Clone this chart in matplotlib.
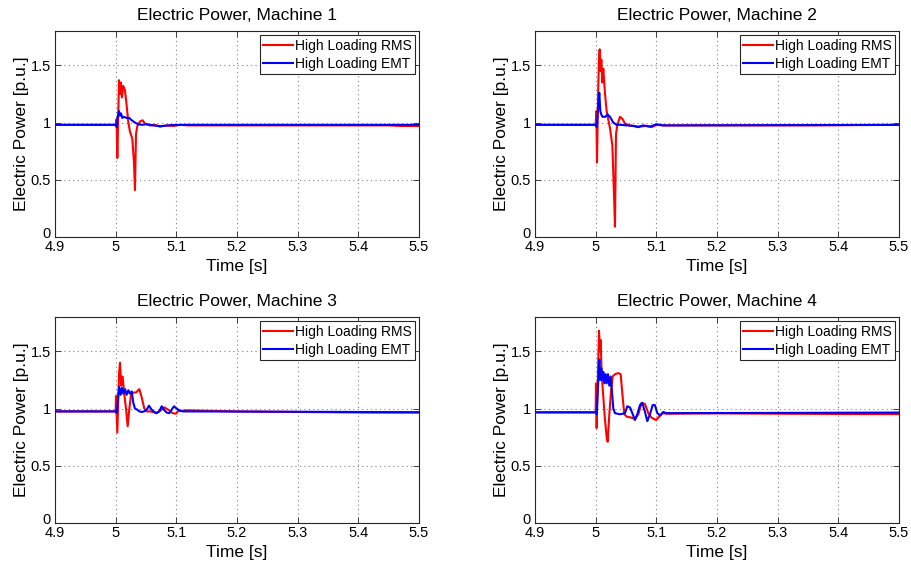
import matplotlib
matplotlib.use("Agg")
import matplotlib.pyplot as plt
from matplotlib.transforms import ScaledTranslation

plt.rcParams['font.family'] = ['Liberation Sans', 'DejaVu Sans']

# ---- data: electric power [p.u.] vs time [s] ----
m1_rms_t = [4.9, 5.0, 5.0016, 5.0027, 5.0044, 5.0055, 5.0071, 5.0088, 5.0104, 5.0126, 5.0154,
            5.0181, 5.0209, 5.0236, 5.0274, 5.0302, 5.0318, 5.0335, 5.0357, 5.0401, 5.0445,
            5.0483, 5.0566, 5.0648, 5.073, 5.084, 5.095, 5.106, 5.12, 5.2, 5.3, 5.45, 5.47, 5.5]
m1_rms_p = [0.98, 0.98, 1.03, 0.69, 1.10, 1.37, 1.25, 1.35, 1.22, 1.32, 1.28,
            1.15, 1.00, 0.92, 0.86, 0.65, 0.41, 0.90, 0.97, 1.01, 1.02,
            0.99, 0.975, 0.98, 0.965, 0.975, 0.97, 0.98, 0.975, 0.975, 0.975, 0.975, 0.97, 0.97]
m1_emt_t = [4.9, 5.0, 5.0016, 5.0033, 5.0055, 5.0071, 5.0088, 5.011, 5.0137, 5.0181, 5.0225,
            5.0264, 5.0318, 5.0373, 5.0428, 5.0511, 5.062, 5.073, 5.0813, 5.0922, 5.11, 5.5]
m1_emt_p = [0.98, 0.98, 0.96, 1.05, 1.10, 1.06, 1.08, 1.04, 1.05, 1.04, 1.04,
            1.02, 1.00, 0.985, 0.98, 0.985, 0.975, 0.968, 0.972, 0.978, 0.98, 0.98]

m2_rms_t = [4.9, 5.0, 5.0011, 5.0022, 5.0038, 5.0055, 5.0066, 5.0082, 5.0093, 5.011, 5.0126,
            5.0154, 5.0181, 5.0236, 5.0275, 5.0291, 5.0307, 5.0318, 5.0335, 5.0357, 5.0401,
            5.0445, 5.0483, 5.0566, 5.0703, 5.084, 5.0922, 5.1005, 5.1114, 5.2, 5.36, 5.5]
m2_rms_p = [0.98, 0.98, 1.10, 0.65, 1.20, 1.57, 1.64, 1.45, 1.55, 1.35, 1.47,
            1.25, 1.10, 0.95, 0.80, 0.55, 0.30, 0.09, 0.90, 0.98, 1.05,
            1.03, 0.99, 0.975, 0.965, 0.97, 0.96, 0.98, 0.975, 0.975, 0.975, 0.98]
m2_emt_t = [4.9, 5.0, 5.0016, 5.0044, 5.006, 5.0077, 5.0093, 5.0115, 5.0154, 5.0198, 5.0236,
            5.0291, 5.0346, 5.0428, 5.0511, 5.062, 5.0703, 5.0785, 5.0895, 5.1005, 5.1114, 5.5]
m2_emt_p = [0.98, 0.98, 0.96, 1.15, 1.26, 1.10, 1.07, 1.05, 1.05, 1.07, 1.05,
            1.00, 0.98, 0.98, 0.975, 0.97, 0.96, 0.975, 0.965, 0.985, 0.975, 0.98]

m3_rms_t = [4.9, 5.0, 5.0005, 5.0027, 5.0055, 5.0071, 5.0093, 5.0115, 5.0137, 5.017, 5.0198,
            5.0225, 5.0253, 5.0291, 5.0335, 5.039, 5.0428, 5.0472, 5.0511, 5.0566, 5.062,
            5.0664, 5.073, 5.0802, 5.0867, 5.0939, 5.0994, 5.1032, 5.1087, 5.1169, 5.2, 5.3,
            5.42, 5.5]
m3_rms_p = [0.975, 0.975, 1.11, 0.79, 1.30, 1.40, 1.20, 1.28, 1.15, 1.00, 0.845,
            1.00, 1.12, 1.14, 1.14, 1.17, 1.10, 1.00, 0.975, 0.975, 0.97,
            0.96, 0.98, 1.01, 0.99, 0.96, 0.955, 0.98, 0.98, 0.985, 0.975, 0.97,
            0.965, 0.965]
m3_emt_t = [4.9, 5.0, 5.0016, 5.0044, 5.006, 5.0082, 5.0104, 5.0126, 5.0154, 5.0181, 5.0209,
            5.0236, 5.0264, 5.0291, 5.0318, 5.0357, 5.039, 5.0428, 5.0467, 5.0511, 5.0549,
            5.0593, 5.0637, 5.0675, 5.0719, 5.0758, 5.0796, 5.084, 5.0884, 5.0922, 5.0961,
            5.1005, 5.106, 5.1114, 5.3, 5.5]
m3_emt_p = [0.975, 0.975, 0.96, 1.12, 1.19, 1.12, 1.18, 1.13, 1.17, 1.12, 1.16,
            1.13, 1.15, 1.05, 1.00, 0.99, 0.975, 0.97, 0.975, 0.99, 1.025,
            0.99, 0.97, 0.96, 0.975, 1.02, 0.99, 0.965, 0.96, 0.99, 1.02,
            1.00, 0.98, 0.975, 0.972, 0.968]

m4_rms_t = [4.9, 5.0, 5.0005, 5.0016, 5.0033, 5.0055, 5.0071, 5.0082, 5.0099, 5.0126, 5.0154,
            5.0181, 5.0198, 5.0225, 5.0253, 5.028, 5.0318, 5.0373, 5.0412, 5.0445, 5.0472,
            5.0511, 5.0593, 5.0648, 5.0703, 5.0758, 5.0813, 5.0867, 5.0922, 5.0994, 5.1049,
            5.1104, 5.1169, 5.2, 5.3, 5.44, 5.5]
m4_rms_p = [0.967, 0.967, 1.22, 0.83, 1.20, 1.68, 1.50, 1.60, 1.30, 1.10, 0.90,
            0.75, 0.71, 0.95, 1.15, 1.28, 1.30, 1.31, 1.30, 1.10, 0.95,
            0.93, 0.92, 0.91, 0.95, 1.05, 1.04, 0.96, 0.92, 0.90, 0.93,
            0.96, 0.955, 0.958, 0.955, 0.952, 0.952]
m4_emt_t = [4.9, 5.0, 5.0016, 5.0044, 5.006, 5.0077, 5.0093, 5.011, 5.0126, 5.0143, 5.0165,
            5.0181, 5.0203, 5.0225, 5.0247, 5.0269, 5.0291, 5.0318, 5.0357, 5.0401, 5.0445,
            5.0483, 5.0522, 5.0566, 5.0604, 5.0648, 5.0686, 5.073, 5.0769, 5.0813, 5.0851,
            5.0895, 5.0939, 5.0977, 5.1016, 5.106, 5.1114, 5.1169, 5.3, 5.5]
m4_emt_p = [0.967, 0.967, 0.95, 1.25, 1.43, 1.25, 1.35, 1.25, 1.32, 1.22, 1.30,
            1.22, 1.30, 1.20, 1.28, 1.15, 1.00, 0.96, 0.955, 0.95, 0.955,
            0.96, 1.02, 1.01, 0.96, 0.90, 0.95, 1.03, 1.05, 0.97, 0.89,
            0.95, 1.03, 1.03, 0.96, 0.94, 0.97, 0.96, 0.962, 0.965]

machines = ["Machine 1", "Machine 2", "Machine 3", "Machine 4"]
rms_series = [(m1_rms_t, m1_rms_p), (m2_rms_t, m2_rms_p), (m3_rms_t, m3_rms_p), (m4_rms_t, m4_rms_p)]
emt_series = [(m1_emt_t, m1_emt_p), (m2_emt_t, m2_emt_p), (m3_emt_t, m3_emt_p), (m4_emt_t, m4_emt_p)]

x_ticks = [4.9, 5.0, 5.1, 5.2, 5.3, 5.4, 5.5]
x_tick_labels = ["4.9", "5", "5.1", "5.2", "5.3", "5.4", "5.5"]
y_ticks = [0, 0.5, 1, 1.5]
y_tick_labels = ["0", "0.5", "1", "1.5"]

fig = plt.figure(figsize=(9.12, 5.64), dpi=100)

lefts = [55 / 912, 535 / 912]
width = 364 / 912
bottoms = [1 - 237 / 564, 1 - 523 / 564]
height = 206 / 564

for i, name in enumerate(machines):
    row, col = divmod(i, 2)
    ax = fig.add_axes([lefts[col], bottoms[row], width, height])
    t, p = rms_series[i]
    ax.plot(t, p, color="#ff0000", lw=1.5, label="High Loading RMS")
    t, p = emt_series[i]
    ax.plot(t, p, color="#0000ff", lw=1.5, label="High Loading EMT")

    ax.set_xlim(4.9, 5.5)
    ax.set_ylim(0, 1.8)
    ax.set_xticks(x_ticks)
    ax.set_xticklabels(x_tick_labels)
    ax.set_yticks(y_ticks)
    ax.set_yticklabels(y_tick_labels)
    ax.tick_params(direction="in", length=4, width=0.6, labelsize=10.5,
                   top=True, right=True, color="#262626", labelcolor="black", pad=2.5)
    ax.tick_params(axis="y", pad=3)
    # lift the "0" label a little so it sits above the corner x label
    zero_lbl = ax.get_yticklabels()[0]
    zero_lbl.set_transform(zero_lbl.get_transform()
                           + ScaledTranslation(0, 3 / 72, fig.dpi_scale_trans))
    ax.grid(True, linestyle=(0, (1, 3)), color="#808080", linewidth=0.8)
    for s in ax.spines.values():
        s.set_color("#262626")
        s.set_linewidth(0.8)

    ax.set_title(f"Electric Power, {name}", fontsize=12.5, pad=8)
    ax.set_xlabel("Time [s]", fontsize=12.5, labelpad=3)
    ax.set_ylabel("Electric Power [p.u.]", fontsize=12.5, labelpad=1)

    leg = ax.legend(loc="upper right", fontsize=10, fancybox=False, framealpha=1,
                    edgecolor="#262626", borderaxespad=0.3, handlelength=2.1,
                    handletextpad=0.15, labelspacing=0.3, borderpad=0.25)
    leg.get_frame().set_linewidth(0.8)

fig.savefig("out.png", dpi=100)
